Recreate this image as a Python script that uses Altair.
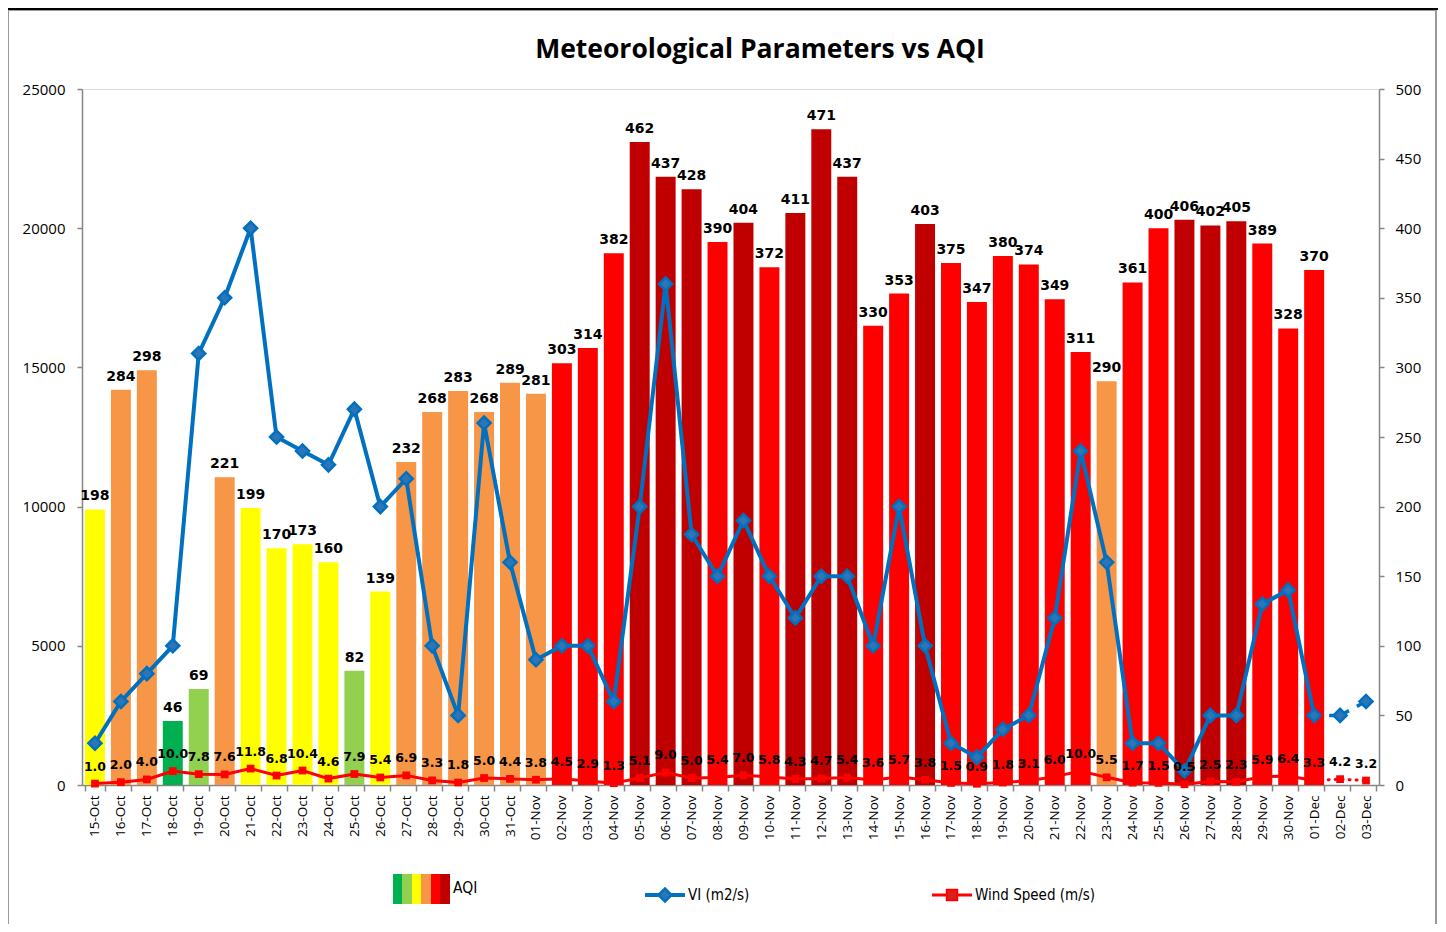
import altair as alt
import pandas as pd

# ---------------- data ----------------
dates = ["15-Oct", "16-Oct", "17-Oct", "18-Oct", "19-Oct", "20-Oct", "21-Oct", "22-Oct", "23-Oct",
         "24-Oct", "25-Oct", "26-Oct", "27-Oct", "28-Oct", "29-Oct", "30-Oct", "31-Oct",
         "01-Nov", "02-Nov", "03-Nov", "04-Nov", "05-Nov", "06-Nov", "07-Nov", "08-Nov", "09-Nov",
         "10-Nov", "11-Nov", "12-Nov", "13-Nov", "14-Nov", "15-Nov", "16-Nov", "17-Nov", "18-Nov",
         "19-Nov", "20-Nov", "21-Nov", "22-Nov", "23-Nov", "24-Nov", "25-Nov", "26-Nov", "27-Nov",
         "28-Nov", "29-Nov", "30-Nov", "01-Dec", "02-Dec", "03-Dec"]

aqi = [198, 284, 298, 46, 69, 221, 199, 170, 173, 160, 82, 139, 232, 268, 283, 268, 289,
       281, 303, 314, 382, 462, 437, 428, 390, 404, 372, 411, 471, 437, 330, 353, 403, 375, 347,
       380, 374, 349, 311, 290, 361, 400, 406, 402, 405, 389, 328, 370, None, None]

vi = [1500, 3000, 4000, 5000, 15500, 17500, 20000, 12500, 12000, 11500, 13500, 10000, 11000,
      5000, 2500, 13000, 8000,
      4500, 5000, 5000, 3000, 10000, 18000, 9000, 7500, 9500, 7500, 6000, 7500, 7500, 5000,
      10000, 5000, 1500, 1000, 2000, 2500, 6000, 12000, 8000, 1500, 1500, 500, 2500, 2500,
      6500, 7000, 2500, 2500, 3000]

wind = [1.0, 2.0, 4.0, 10.0, 7.8, 7.6, 11.8, 6.8, 10.4, 4.6, 7.9, 5.4, 6.9, 3.3, 1.8, 5.0, 4.4,
        3.8, 4.5, 2.9, 1.3, 5.1, 9.0, 5.0, 5.4, 7.0, 5.8, 4.3, 4.7, 5.4, 3.6, 5.7, 3.8, 1.5, 0.9,
        1.8, 3.1, 6.0, 10.0, 5.5, 1.7, 1.5, 0.5, 2.5, 2.3, 5.9, 6.4, 3.3, 4.2, 3.2]

aqi_breaks = [51, 101, 201, 301, 401]
aqi_colors = ["#00B050", "#92D050", "#FFFF00", "#F79646", "#FF0000", "#C00000"]

title_text = "Meteorological Parameters vs AQI"

df = pd.DataFrame({"date": dates, "aqi": aqi, "vi": vi, "wind": wind})
solid = df.iloc[:48]       # 15-Oct .. 01-Dec
tail = df.iloc[47:]        # 01-Dec .. 03-Dec (dashed part)

W, H = 1297, 696
GRAY = "#868686"
LABEL_FONT = "Open Sans"
NUM_FONT = "DejaVu Sans"
LEG_FONT = "DejaVu Sans Condensed, Roboto, sans-serif"

x_enc = alt.X(
    "date:N", sort=dates,
    scale=alt.Scale(paddingInner=0.23, paddingOuter=0.115),
    axis=alt.Axis(title=None, labelAngle=-90, labelFont=LABEL_FONT, labelFontSize=13.5,
                  labelColor="black", tickBand="extent", tickSize=6, labelPadding=4,
                  domainColor=GRAY, tickColor=GRAY, domainWidth=1.5, tickWidth=1.5,
                  grid=False, labelOverlap=False),
)

right_axis = alt.Axis(orient="right", values=list(range(0, 501, 50)), format="d", grid=False,
                      title=None, tickSize=5, labelPadding=11, labelFont=LABEL_FONT,
                      labelFontSize=15, labelColor="black", domainColor=GRAY, tickColor=GRAY,
                      domainWidth=1.5, tickWidth=1.5)
left_axis = alt.Axis(orient="left", values=list(range(0, 25001, 5000)), format="d", grid=False,
                     title=None, tickSize=5, labelPadding=12, labelFont=LABEL_FONT,
                     labelFontSize=15, labelColor="black", domainColor=GRAY, tickColor=GRAY,
                     domainWidth=1.5, tickWidth=1.5)

# ---------------- AQI bars ----------------
base_aqi = alt.Chart(df).transform_filter("isValid(datum.aqi)")
bars = base_aqi.mark_bar().encode(
    x=x_enc,
    y=alt.Y("aqi:Q", scale=alt.Scale(domain=[0, 500]), axis=right_axis),
    color=alt.Color("aqi:Q", scale=alt.Scale(type="threshold", domain=aqi_breaks,
                                             range=aqi_colors), legend=None),
)
bar_labels = base_aqi.mark_text(font=NUM_FONT, fontWeight="bold", fontSize=14,
                                baseline="alphabetic", dy=-9, color="black").encode(
    x=x_enc, y=alt.Y("aqi:Q"), text=alt.Text("aqi:Q", format="d"))
g_aqi = alt.layer(bars, bar_labels)

# ---------------- VI line ----------------
vi_y = alt.Y("vi:Q", scale=alt.Scale(domain=[0, 25000]), axis=left_axis)
vi_line = alt.Chart(solid).mark_line(color="#0070C0", strokeWidth=4).encode(x=x_enc, y=vi_y)
vi_dash = alt.Chart(tail).mark_line(color="#0070C0", strokeWidth=3.5,
                                    strokeDash=[6, 9]).encode(x=x_enc, y=vi_y)
vi_pts = alt.Chart(df).mark_point(shape="diamond", filled=True, size=170, fill="#2E75B6",
                                  stroke="#0070C0", strokeWidth=2.5, opacity=1).encode(
    x=x_enc, y=vi_y)
g_vi = alt.layer(vi_line, vi_dash, vi_pts)

# ---------------- Wind speed ----------------
w_y = alt.Y("wind:Q", scale=alt.Scale(domain=[0, 500]), axis=None)
w_line = alt.Chart(solid).mark_line(color="#FF0000", strokeWidth=3).encode(x=x_enc, y=w_y)
w_dash = alt.Chart(tail).mark_line(color="#FF0000", strokeWidth=3, strokeDash=[1, 6],
                                   strokeCap="round").encode(x=x_enc, y=w_y)
w_pts = alt.Chart(df).mark_point(shape="square", filled=True, size=60, color="#FF0000",
                                 opacity=1).encode(x=x_enc, y=w_y)
w_labels = alt.Chart(df).mark_text(font=NUM_FONT, fontWeight="bold", fontSize=12.5,
                                   baseline="alphabetic", dy=-13, color="black").encode(
    x=x_enc, y=w_y, text=alt.Text("wind:Q", format=".1f"))
g_wind = alt.layer(w_line, w_dash, w_pts, w_labels)

# ---------------- frame, title + custom legend ----------------
one = pd.DataFrame({"k": [0]})
frame = alt.Chart(one).mark_rect(fill=None, stroke="#9A9A9A", strokeWidth=2).encode(
    x=alt.value(-74), x2=alt.value(W + 57), y=alt.value(-79), y2=alt.value(H + 160))
top_line = alt.Chart(one).mark_rule(color="black", strokeWidth=2).encode(
    x=alt.value(-74), x2=alt.value(W + 60), y=alt.value(-80))
title = alt.Chart(one).mark_text(text=title_text, font=LABEL_FONT, fontSize=26.5,
                                 fontWeight="bold", color="black", align="center",
                                 baseline="alphabetic").encode(
    x=alt.value(678), y=alt.value(-31))

stops = []
for i, c in enumerate(aqi_colors):
    stops.append({"offset": i / 6, "color": c})
    stops.append({"offset": (i + 1) / 6, "color": c})
leg_aqi = alt.Chart(one).mark_rect(
    color={"gradient": "linear", "x1": 0, "x2": 1, "y1": 0, "y2": 0, "stops": stops}
).encode(x=alt.value(311), x2=alt.value(368), y=alt.value(785), y2=alt.value(815))
leg_aqi_t = alt.Chart(one).mark_text(text="AQI", align="left", baseline="middle",
                                     font=LEG_FONT, fontSize=15.5, color="black").encode(
    x=alt.value(371), y=alt.value(799))

leg_vi_l = alt.Chart(one).mark_rule(color="#0070C0", strokeWidth=4).encode(
    x=alt.value(563), x2=alt.value(603), y=alt.value(806))
leg_vi_p = alt.Chart(one).mark_point(shape="diamond", filled=True, size=170, fill="#2E75B6",
                                     stroke="#0070C0", strokeWidth=2.5, opacity=1).encode(
    x=alt.value(583), y=alt.value(806))
leg_vi_t = alt.Chart(one).mark_text(text="VI (m2/s)", align="left", baseline="middle",
                                    font=LEG_FONT, fontSize=15, color="black").encode(
    x=alt.value(606), y=alt.value(806))

leg_w_l = alt.Chart(one).mark_rule(color="#FF0000", strokeWidth=3).encode(
    x=alt.value(850), x2=alt.value(890), y=alt.value(806))
leg_w_p = alt.Chart(one).mark_point(shape="square", filled=True, size=110, fill="#D62020",
                                    stroke="#FF0000", strokeWidth=2, opacity=1).encode(
    x=alt.value(870), y=alt.value(806))
leg_w_t = alt.Chart(one).mark_text(text="Wind Speed (m/s)", align="left", baseline="middle",
                                   font=LEG_FONT, fontSize=15, color="black").encode(
    x=alt.value(893), y=alt.value(806))

chart = alt.layer(
    frame, top_line, title, g_aqi, g_vi, g_wind,
    leg_aqi, leg_aqi_t, leg_vi_l, leg_vi_p, leg_vi_t, leg_w_l, leg_w_p, leg_w_t,
).resolve_scale(y="independent").properties(
    width=W, height=H,
    autosize=alt.AutoSizeParams(type="none"),
    padding={"left": 74, "top": 81, "right": 59, "bottom": 139},
).configure_view(fill="#E6E0EC", stroke=None).configure(background="white")

chart.save("out.html", embed_options={"renderer": "svg", "actions": False})
